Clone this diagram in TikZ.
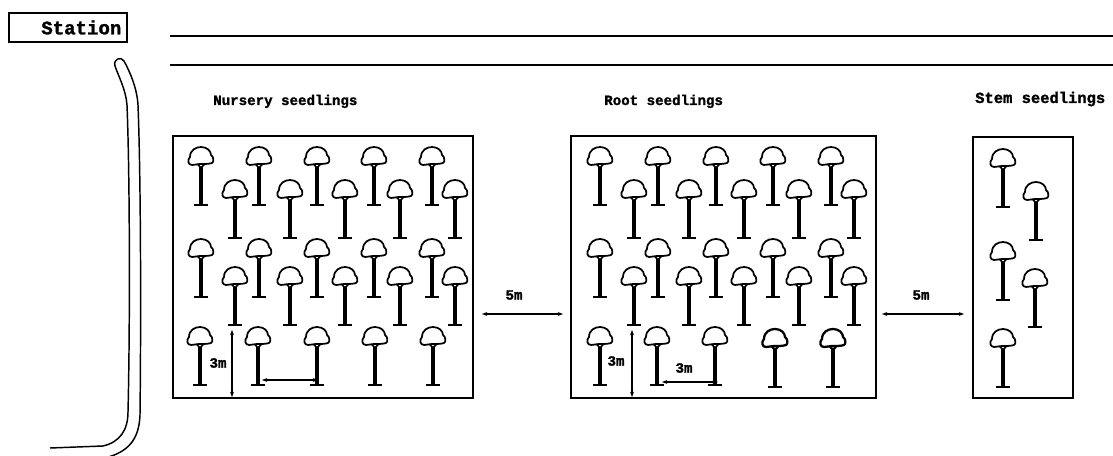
\documentclass[tikz,border=0pt]{standalone}
\usepackage{fontspec}
\setmonofont{Liberation Mono}[BoldFeatures={FakeBold=1.5}]
\usetikzlibrary{arrows.meta}
\newcommand\mytreecode[3]{%
    \draw[line width=#1,line join=round] (-9,-40) .. controls (-13,-40) and (-14,-45) .. (-11,-48)
      .. controls (-11,-55) and (-5,-58) .. (0,-58)
      .. controls (6,-58) and (10,-54) .. (10,-50)
      .. controls (13,-48) and (13,-43) .. (11,-42)
      .. controls (8,-41) and (4,-41) .. (0,-41)
      .. controls (-4,-41) and (-6,-40) .. (-9,-40) -- cycle;
    \draw[line width=#1] (-3.5,-41) -- (0,-37) -- (3.5,-41);
    \draw[line width=#2] (0,-38) -- (0,0);
    \draw[line width=#3] (-7,0) -- (7,0);}
\begin{document}
\begin{tikzpicture}[x=0.75pt,y=-0.75pt,
  lbl/.style={font=\ttfamily\bfseries\fontsize{10.6}{12}\selectfont,inner sep=0pt},
  dim/.style={line width=0.8pt,{Stealth[length=4pt,width=3pt]}-{Stealth[length=4pt,width=3pt]}},
  road/.style={line width=1.1pt,line join=round},
  seedtree/.pic={\mytreecode{1.3pt}{2.6pt}{2pt}},
  boldtree/.pic={\mytreecode{1.7pt}{3.1pt}{2.2pt}}
]
\useasboundingbox (0,0) rectangle (1113,456);

% station
\node[draw,line width=1.1pt,minimum width=88.5pt,minimum height=21.75pt,inner sep=0pt,
      font=\ttfamily\bfseries\fontsize{14.3}{16}\selectfont] (station) at (68,27.5) {\hspace*{20pt}Station};

% parallel lines
\coordinate (l1a) at (170,36); \coordinate (l1b) at (1113,36);
\coordinate (l2a) at (170,65); \coordinate (l2b) at (1113,65);
\draw[line width=0.9pt] (l1a) -- (l1b);
\draw[line width=0.9pt] (l2a) -- (l2b);

% road
\draw[road] (50,448) -- (103,446) .. controls (120,442) and (128,430) .. (128,412)
  .. controls (130,330) and (130,180) .. (127,105)
  .. controls (126,90) and (118,75) .. (115,66)
  .. controls (113,59) and (121,56) .. (124,61)
  .. controls (130,72) and (137,88) .. (138,105)
  .. controls (141,180) and (141,330) .. (140,415)
  .. controls (139,440) and (128,452) .. (105,458);

% boxes
\node[draw,line width=1.1pt,minimum width=225pt,minimum height=196.5pt,inner sep=0pt] (nursery) at (323,267) {};
\node[draw,line width=1.1pt,minimum width=228.75pt,minimum height=196.5pt,inner sep=0pt] (root) at (723.5,267) {};
\node[draw,line width=1.1pt,minimum width=75pt,minimum height=195.75pt,inner sep=0pt] (stem) at (1023,267.5) {};

% titles
\node[lbl,anchor=base west] (tn) at (213,105) {Nursery seedlings};
\node[lbl,anchor=base west] (tr) at (604,105) {Root seedlings};
\node[lbl,anchor=base west,font=\ttfamily\bfseries\fontsize{11.6}{13}\selectfont] (ts) at (975,103) {Stem seedlings};

% nursery trees
\foreach \x in {201,259,317,374,432} {\pic at (\x,205) {seedtree}; \pic at (\x,297) {seedtree};}
\foreach \x in {200,258,317,375,433} {\pic at (\x,385) {seedtree};}
\foreach \x in {235,290,345,400,455} {\pic at (\x,238) {seedtree}; \pic at (\x,325) {seedtree};}

% root trees
\foreach \x in {600,658,716,773,831} {\pic at (\x,205) {seedtree}; \pic at (\x,297) {seedtree};}
\foreach \x in {600,657,715} {\pic at (\x,385) {seedtree};}
\foreach \x in {775,833} {\pic at (\x,387) {boldtree};}
\foreach \x in {634,689,744,799,854} {\pic at (\x,238) {seedtree}; \pic at (\x,325) {seedtree};}

% stem trees
\pic at (1003,207) {seedtree};
\pic at (1036,240) {seedtree};
\pic at (1003,300) {seedtree};
\pic at (1035,327) {seedtree};
\pic at (1003,387) {seedtree};

% nursery dimensions
\coordinate (nv1) at (232,330); \coordinate (nv2) at (232,397);
\draw[dim] (nv1) -- (nv2);
\node[lbl] (n3m) at (218,363) {3m};
\coordinate (nh1) at (262,380); \coordinate (nh2) at (318,380);
\draw[dim] (nh1) -- (nh2);

% root dimensions
\coordinate (rv1) at (632,330); \coordinate (rv2) at (632,397);
\draw[dim] (rv1) -- (rv2);
\node[lbl] (r3m) at (616,361) {3m};
\coordinate (rh1) at (662,382); \coordinate (rh2) at (718,382);
\draw[dim] (rh1) -- (rh2);
\node[lbl] (r3mh) at (684,368) {3m};

% 5m spacings
\coordinate (s1a) at (482,314); \coordinate (s1b) at (563,314);
\draw[dim] (s1a) -- (s1b);
\node[lbl] (s1l) at (514,295) {5m};
\coordinate (s2a) at (882,314); \coordinate (s2b) at (964,314);
\draw[dim] (s2a) -- (s2b);
\node[lbl] (s2l) at (921,295) {5m};
\end{tikzpicture}
\end{document}
